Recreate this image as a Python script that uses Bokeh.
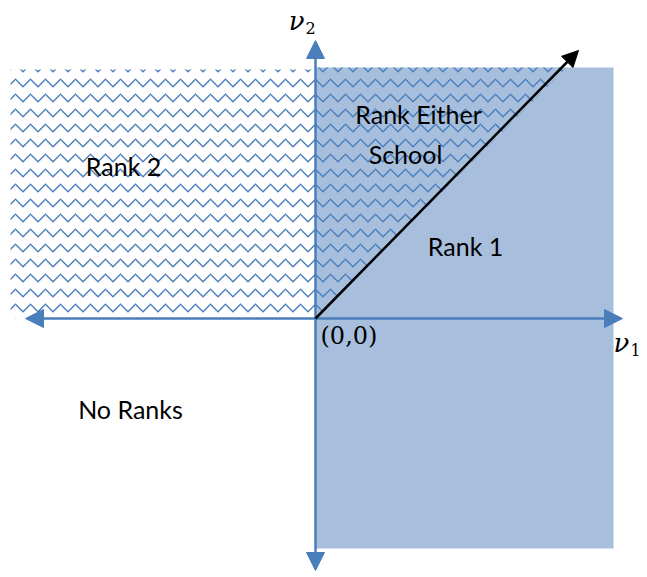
from bokeh.plotting import figure
from bokeh.models import Range1d, Arrow, NormalHead, ColumnDataSource
from bokeh.core.properties import value
from bokeh.embed import file_html
from bokeh.resources import INLINE

# Region geometry (diagram units, origin at (0,0))
rank1_x = [0, 298, 298, 0]
rank1_y = [251, 251, -230, -230]
rank2_x = [-305, 0, 0, -305]
rank2_y = [249, 249, 0, 0]
either_x = [0, 0, 251]
either_y = [0, 251, 251]
axis_h = [-290, 307]
axis_v = [-252, 278]
diag_end = [263, 268]

labels = ["Rank 2", "Rank Either", "School", "Rank 1", "No Ranks"]
label_x = [-192, 103, 90, 150, -185]
label_y = [153, 205, 165, 73, -90]

BLUE_FILL = "#a7bfdd"
BLUE_LINE = "#4a7ebb"

W, H = 645, 575
p = figure(width=W, height=H, output_backend="svg", toolbar_location=None,
           x_range=Range1d(-315, W - 315), y_range=Range1d(-(H - 318), 318),
           min_border=0)
p.axis.visible = False
p.grid.visible = False
p.outline_line_color = None
p.background_fill_color = "white"

p.patch(rank1_x, rank1_y, fill_color=BLUE_FILL, line_color=None)
hatch_kw = dict(fill_alpha=0, line_color=None, hatch_pattern="horizontal_wave",
                hatch_color=BLUE_LINE, hatch_scale=15, hatch_weight=1.3)
p.patch(rank2_x, rank2_y, **hatch_kw)
p.patch(either_x, either_y, **hatch_kw)

p.add_layout(Arrow(end=NormalHead(size=18, fill_color=BLUE_LINE, line_color=BLUE_LINE),
                   start=NormalHead(size=18, fill_color=BLUE_LINE, line_color=BLUE_LINE),
                   x_start=axis_h[0], y_start=0, x_end=axis_h[1], y_end=0,
                   line_color=BLUE_LINE, line_width=2.5))
p.add_layout(Arrow(end=NormalHead(size=18, fill_color=BLUE_LINE, line_color=BLUE_LINE),
                   start=NormalHead(size=18, fill_color=BLUE_LINE, line_color=BLUE_LINE),
                   x_start=0, y_start=axis_v[0], x_end=0, y_end=axis_v[1],
                   line_color=BLUE_LINE, line_width=2.5))
p.add_layout(Arrow(end=NormalHead(size=16, fill_color="black", line_color="black"),
                   x_start=0, y_start=0, x_end=diag_end[0], y_end=diag_end[1],
                   line_color="black", line_width=2.5))

src = ColumnDataSource(dict(x=label_x, y=label_y, t=labels))
p.text("x", "y", text="t", source=src, text_font=value("Lato"), text_font_size="25px",
       text_align="center", text_baseline="middle", text_color="black")

# math labels
p.text([5], [-17], text=["(0,0)"], text_font=value("DejaVu Serif"), text_font_size="24px",
       text_align="left", text_baseline="middle", text_color="black")
p.text([-11], [298], text=["ν"], text_font=value("DejaVu Serif"), text_font_size="26px",
       text_font_style="italic", text_align="right", text_baseline="middle")
p.text([-10], [291], text=["2"], text_font=value("DejaVu Serif"), text_font_size="16px",
       text_align="left", text_baseline="middle")
p.text([298], [-24], text=["ν"], text_font=value("DejaVu Serif"), text_font_size="26px",
       text_font_style="italic", text_align="left", text_baseline="middle")
p.text([315], [-31], text=["1"], text_font=value("DejaVu Serif"), text_font_size="16px",
       text_align="left", text_baseline="middle")

open("out.html", "w").write(file_html(p, INLINE))
